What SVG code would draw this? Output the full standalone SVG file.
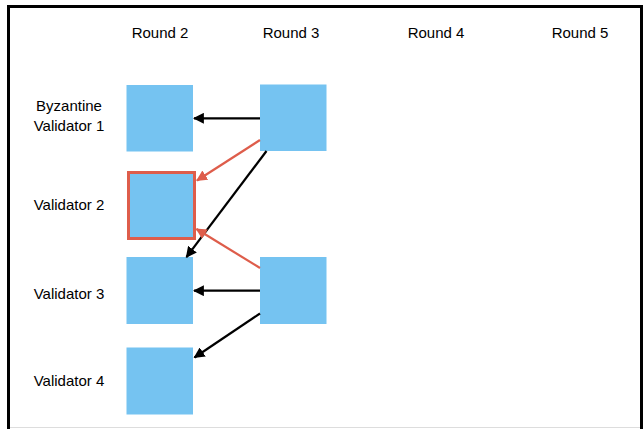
<svg xmlns="http://www.w3.org/2000/svg" width="644" height="429" viewBox="0 0 644 429">
  <style>
    .lbl { font-family: "Liberation Sans", Arial, sans-serif; font-size: 15px; fill: #000; text-anchor: middle; }
    .blk { fill: #75C3F1; }
    .edge { stroke: #000; stroke-width: 2.2; fill: none; }
    .edge.red { stroke: #DE5D4B; }
  </style>
  <defs>
    <marker id="arrow-black" viewBox="0 0 10 10" refX="9" refY="5" markerWidth="5" markerHeight="5" markerUnits="strokeWidth" orient="auto">
      <path d="M0,0 L10,5 L0,10 z" fill="#000"/>
    </marker>
    <marker id="arrow-red" viewBox="0 0 10 10" refX="9" refY="5" markerWidth="5" markerHeight="5" markerUnits="strokeWidth" orient="auto">
      <path d="M0,0 L10,5 L0,10 z" fill="#DE5D4B"/>
    </marker>
  </defs>

  <rect x="0" y="0" width="644" height="429" fill="#fff"/>
  <!-- frame -->
  <path d="M8.5,429 V6.5 H641.5 V429" fill="none" stroke="#000" stroke-width="3"/>
  <line x1="10" y1="427.5" x2="640" y2="427.5" stroke="#ddd" stroke-width="1"/>

  <!-- column headers -->
  <g id="headers">
    <text class="lbl" x="160" y="38">Round 2</text>
    <text class="lbl" x="291" y="38">Round 3</text>
    <text class="lbl" x="436" y="38">Round 4</text>
    <text class="lbl" x="580" y="38">Round 5</text>
  </g>

  <!-- row labels -->
  <g id="rows">
    <text class="lbl" x="69" y="111">Byzantine</text>
    <text class="lbl" x="69" y="131">Validator 1</text>
    <text class="lbl" x="69" y="210">Validator 2</text>
    <text class="lbl" x="69" y="299">Validator 3</text>
    <text class="lbl" x="69" y="386">Validator 4</text>
  </g>

  <!-- blocks -->
  <g id="v1r2"><rect class="blk" x="126.5" y="85" width="66.5" height="66.5"/></g>
  <g id="v1r3"><rect class="blk" x="260" y="84.5" width="66.5" height="66.5"/></g>
  <g id="v2r2"><rect class="blk" x="128.5" y="172.5" width="66" height="66" stroke="#DE5D4B" stroke-width="3"/></g>
  <g id="v3r2"><rect class="blk" x="126.5" y="257" width="66.5" height="67"/></g>
  <g id="v3r3"><rect class="blk" x="260" y="257" width="66.5" height="67"/></g>
  <g id="v4r2"><rect class="blk" x="126.5" y="347.5" width="66.5" height="67"/></g>

  <!-- references -->
  <g id="connectors">
    <line class="edge" x1="260" y1="118.3" x2="194" y2="118.3" marker-end="url(#arrow-black)"/>
    <line class="edge red" x1="260" y1="140" x2="197" y2="180.5" marker-end="url(#arrow-red)"/>
    <line class="edge" x1="266.5" y1="151" x2="186.5" y2="257" marker-end="url(#arrow-black)"/>
    <line class="edge red" x1="260" y1="268" x2="196.5" y2="229" marker-end="url(#arrow-red)"/>
    <line class="edge" x1="260" y1="290.7" x2="194" y2="290.7" marker-end="url(#arrow-black)"/>
    <line class="edge" x1="260" y1="313.5" x2="194.5" y2="357.5" marker-end="url(#arrow-black)"/>
  </g>
</svg>
